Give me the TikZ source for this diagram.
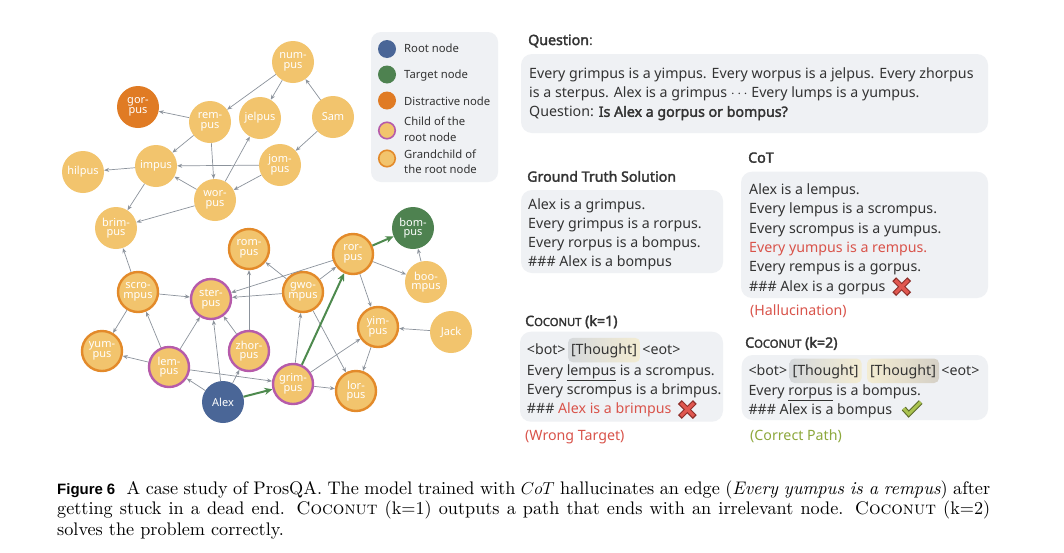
\documentclass[tikz,border=0pt]{standalone}
\usepackage{fontspec}
\usetikzlibrary{arrows.meta,shadings}
\newfontfamily\ns{Noto Sans}[AutoFakeBold=2.2]
\newfontfamily\figfont{Liberation Sans}
\newfontfamily\capfont{lmroman10-regular.otf}[ItalicFont=lmroman10-italic.otf, SmallCapsFont=lmromancaps10-regular.otf, BoldFont=lmroman10-bold.otf]
\definecolor{nlight}{HTML}{F2C46D}
\definecolor{nblue}{HTML}{4A6697}
\definecolor{ngreen}{HTML}{4E8250}
\definecolor{ndark}{HTML}{E07B24}
\definecolor{npurple}{HTML}{B65BAA}
\definecolor{norange}{HTML}{E38A2A}
\definecolor{egray}{HTML}{8C939C}
\definecolor{egreen}{HTML}{4E8A4E}
\definecolor{boxgray}{HTML}{EFF1F4}
\definecolor{txt}{HTML}{333333}
\definecolor{txtred}{HTML}{D9534A}
\definecolor{txtgreen}{HTML}{8DA83C}
\definecolor{xdark}{HTML}{8E2F2A}
\definecolor{xred}{HTML}{E0574F}
\definecolor{cdark}{HTML}{5C6B2A}
\definecolor{cgreen}{HTML}{AAC34F}
\definecolor{thgray}{HTML}{D6D9DC}
\definecolor{thbeige}{HTML}{F3ECD2}
\definecolor{thbrown}{HTML}{D5D0C6}
\tikzset{
  gnode/.style={circle, minimum size=42pt, inner sep=0pt, fill=nlight, text=white,
    font=\ns\fontsize{11}{9.5}\selectfont, align=center},
  childn/.style={gnode, draw=npurple, line width=2.4pt, minimum size=40pt},
  grandn/.style={gnode, draw=norange, line width=2.4pt, minimum size=40pt},
  rootn/.style={gnode, fill=nblue},
  targn/.style={gnode, fill=ngreen},
  distn/.style={gnode, fill=ndark},
  edge/.style={-{Stealth[length=5pt,width=4pt]}, draw=egray, line width=0.7pt},
  pathedge/.style={-{Stealth[length=8pt,width=7pt]}, draw=egreen, line width=2pt},
  tline/.style={anchor=base west, inner sep=0pt, font=\ns\fontsize{14.2}{16}\selectfont, text=txt},
  head/.style={anchor=base west, inner sep=0pt, font=\ns\bfseries\fontsize{14.2}{16}\selectfont, text=txt},
  thought/.style={tline, rounded corners=5pt, inner xsep=3pt, inner ysep=0pt, text height=16.5pt, text depth=8pt},
  legtext/.style={anchor=base west, inner sep=0pt, font=\ns\fontsize{11.3}{14}\selectfont, text=txt},
  legdot/.style={circle, minimum size=18pt, inner sep=0pt},
  tbox/.style={fill=boxgray, rounded corners=11pt},
  capline/.style={anchor=base west, inner sep=0pt, font=\capfont\fontsize{18.2}{20.5}\selectfont, text=black},
  xline/.style={line width=5.4pt, draw=xdark},
  xinner/.style={line width=3.2pt, draw=xred},
  cline/.style={line width=5.2pt, draw=cdark, line join=miter},
  cinner/.style={line width=3pt, draw=cgreen, line join=miter}
}
\newcommand{\cocosc}[1]{C{\fontsize{11.2}{12}\selectfont OCONUT} (k=#1)}
\begin{document}
\begin{tikzpicture}[x=1pt,y=-1pt]
\fill[white] (0,0) rectangle (1064,552);
\useasboundingbox (0,0) rectangle (1064,552);

% ---------------- graph ----------------
\node[gnode]  (numpus)   at (293,62)  {num-\\pus};
\node[distn]  (gorpus)   at (138,107) {gor-\\pus};
\node[gnode]  (rempus)   at (210,122) {rem-\\pus};
\node[gnode]  (jelpus)   at (260,118) {jelpus};
\node[gnode]  (sam)      at (333,117) {Sam};
\node[gnode]  (impus)    at (156,166) {impus};
\node[gnode]  (hilpus)   at (83,172)  {hilpus};
\node[gnode]  (jompus)   at (280,165) {jom-\\pus};
\node[gnode]  (worpus)   at (215,200) {wor-\\pus};
\node[gnode]  (brimpus)  at (116,228) {brim-\\pus};
\node[grandn] (rompus)   at (249,249) {rom-\\pus};
\node[grandn] (rorpus)   at (353,254) {ror-\\pus};
\node[targn]  (bompus)   at (413,228) {bom-\\pus};
\node[gnode]  (boompus)  at (426,282) {boo-\\mpus};
\node[grandn] (scrompus) at (138,292) {scro-\\mpus};
\node[childn] (sterpus)  at (211,299) {ster-\\pus};
\node[grandn] (gwompus)  at (303,292) {gwo-\\mpus};
\node[grandn] (yimpus)   at (378,327) {yim-\\pus};
\node[gnode]  (jack)     at (451,332) {Jack};
\node[grandn] (yumpus)   at (102,351) {yum-\\pus};
\node[childn] (lempus)   at (169,367) {lem-\\pus};
\node[childn] (zhorpus)  at (249,351) {zhor-\\pus};
\node[childn] (grimpus)  at (293,384) {grim-\\pus};
\node[grandn] (lorpus)   at (356,391) {lor-\\pus};
\node[rootn]  (alex)     at (223,402) {Alex};

\draw[edge] (numpus) -- (rempus);
\draw[edge] (numpus) -- (jelpus);
\draw[edge] (sam) -- (numpus);
\draw[edge] (sam) -- (jompus);
\draw[edge] (rempus) -- (gorpus);
\draw[edge] (rempus) -- (impus);
\draw[edge] (rempus) -- (worpus);
\draw[edge] (worpus) -- (jelpus);
\draw[edge] (jompus) -- (impus);
\draw[edge] (jompus) -- (worpus);
\draw[edge] (worpus) -- (impus);
\draw[edge] (impus) -- (hilpus);
\draw[edge] (impus) -- (brimpus);
\draw[edge] (worpus) -- (brimpus);
\draw[edge] (scrompus) -- (brimpus);
\draw[edge] (scrompus) -- (sterpus);
\draw[edge] (scrompus) -- (yumpus);
\draw[edge] (lempus) -- (scrompus);
\draw[edge] (lempus) -- (sterpus);
\draw[edge] (lempus) -- (yumpus);
\draw[edge] (lempus) -- (grimpus);
\draw[edge] (alex) -- (lempus);
\draw[edge] (alex) -- (sterpus);
\draw[edge] (alex) -- (zhorpus);
\draw[edge] (zhorpus) -- (rompus);
\draw[edge] (zhorpus) -- (sterpus);
\draw[edge] (gwompus) -- (rompus);
\draw[edge] (gwompus) -- (sterpus);
\draw[edge] (gwompus) -- (rorpus);
\draw[edge] (gwompus) -- (lorpus);
\draw[edge] (rorpus) -- (sterpus);
\draw[edge] (rorpus) -- (boompus);
\draw[edge] (rorpus) -- (yimpus);
\draw[edge] (boompus) -- (bompus);
\draw[edge] (grimpus) -- (gwompus);
\draw[edge] (grimpus) -- (yimpus);
\draw[edge] (grimpus) -- (lorpus);
\draw[edge] (jack) -- (yimpus);
\draw[edge] (yimpus) -- (lorpus);
\draw[pathedge] (alex) -- (grimpus);
\draw[pathedge] (grimpus) -- (rorpus);
\draw[pathedge] (rorpus) -- (bompus);

% ---------------- legend ----------------
\fill[boxgray, rounded corners=10pt] (371,32) rectangle (498,182);
\node[legdot, fill=nblue]  (lg1) at (387,49) {};
\node[legdot, fill=ngreen] (lg2) at (387,74.5) {};
\node[legdot, fill=ndark]  (lg3) at (387,100.5) {};
\node[legdot, fill=nlight, draw=npurple, line width=1.6pt, minimum size=16.5pt] (lg4) at (387,130.5) {};
\node[legdot, fill=nlight, draw=norange, line width=1.6pt, minimum size=16.5pt] (lg5) at (387,158.5) {};
\node[legtext] (lt1) at (404,52.7) {Root node};
\node[legtext] (lt2) at (404,78.3) {Target node};
\node[legtext] (lt3) at (404,105) {Distractive node};
\node[legtext] (lt4a) at (404,125) {Child of the};
\node[legtext] (lt4b) at (404,141.7) {root node};
\node[legtext] (lt5a) at (404,158.3) {Grandchild of};
\node[legtext] (lt5b) at (404,173.3) {the root node};

% ---------------- question ----------------
\node[head] (qh) at (528,45) {Question{\mdseries:}};
\fill[tbox] (521,54) rectangle (988,133);
\node[tline] (q1) at (529,78.3) {Every grimpus is a yimpus. Every worpus is a jelpus. Every zhorpus};
\node[tline] (q2) at (529,97.7) {is a sterpus. Alex is a grimpus $\cdots$ Every lumps is a yumpus.};
\node[tline] (q3) at (529,116.8) {Question: \textbf{Is Alex a gorpus or bompus?}};

% ---------------- ground truth ----------------
\node[head] (gth) at (527,181.7) {Ground Truth Solution};
\fill[tbox] (521,190) rectangle (723,273);
\node[tline] (g1) at (528,209) {Alex is a grimpus.};
\node[tline] (g2) at (528,228.3) {Every grimpus is a rorpus.};
\node[tline] (g3) at (528,247.7) {Every rorpus is a bompus.};
\node[tline] (g4) at (528,266.8) {\#\#\# Alex is a bompus};

% ---------------- CoT ----------------
\node[head] (coth) at (748,162.7) {CoT};
\fill[tbox] (741,171.7) rectangle (988,298);
\node[tline] (c1) at (749,194.3) {Alex is a lempus.};
\node[tline] (c2) at (749,213.7) {Every lempus is a scrompus.};
\node[tline] (c3) at (749,233.3) {Every scrompus is a yumpus.};
\node[tline, text=txtred] (c4) at (749,252.7) {Every yumpus is a rempus.};
\node[tline] (c5) at (749,271.7) {Every rempus is a gorpus.};
\node[tline] (c6) at (749,291.7) {\#\#\# Alex is a gorpus};
\coordinate (xa) at (901.7,286.7);
\draw[xline] ([shift={(-7.5,-7.5)}]xa) -- ([shift={(7.5,7.5)}]xa);
\draw[xline] ([shift={(-7.5,7.5)}]xa) -- ([shift={(7.5,-7.5)}]xa);
\draw[xinner] ([shift={(-6.5,-6.5)}]xa) -- ([shift={(6.5,6.5)}]xa);
\draw[xinner] ([shift={(-6.5,6.5)}]xa) -- ([shift={(6.5,-6.5)}]xa);
\node[tline, text=txtred] (hal) at (750,315) {(Hallucination)};

% ---------------- Coconut k=1 ----------------
\node[head] (k1h) at (525,326) {\cocosc{1}};
\fill[tbox] (520,331.7) rectangle (723,421.7);
\node[tline] (k1a) at (526.7,354.3) {<bot>};
\node[thought, left color=thgray, right color=thbeige, anchor=base west] (k1t) at ([xshift=2pt]k1a.base east) {[Thought]};
\node[tline] (k1e) at ([xshift=2pt]k1t.base east) {<eot>};
\node[tline] (k1b) at (526.7,375) {Every \underline{lempus} is a scrompus.};
\node[tline] (k1c) at (526.7,394.3) {Every scrompus is a brimpus.};
\node[tline] (k1d) at (526.7,413.3) {\#\#\# \textcolor{txtred}{Alex is a brimpus}};
\coordinate (xb) at (687.3,409.5);
\draw[xline] ([shift={(-7.5,-7.5)}]xb) -- ([shift={(7.5,7.5)}]xb);
\draw[xline] ([shift={(-7.5,7.5)}]xb) -- ([shift={(7.5,-7.5)}]xb);
\draw[xinner] ([shift={(-6.5,-6.5)}]xb) -- ([shift={(6.5,6.5)}]xb);
\draw[xinner] ([shift={(-6.5,6.5)}]xb) -- ([shift={(6.5,-6.5)}]xb);
\node[tline, text=txtred] (wt) at (525,440) {(Wrong Target)};

% ---------------- Coconut k=2 ----------------
\node[head] (k2h) at (745,347.7) {\cocosc{2}};
\fill[tbox] (741.7,355) rectangle (988,420);
\node[tline] (k2a) at (748.3,375) {<bot>};
\node[thought, left color=thgray, right color=thbeige, anchor=base west] (k2t1) at ([xshift=2pt]k2a.base east) {[Thought]};
\node[thought, left color=thbeige, right color=thbrown, anchor=base west] (k2t2) at ([xshift=5pt]k2t1.base east) {[Thought]};
\node[tline] (k2e) at ([xshift=2pt]k2t2.base east) {<eot>};
\node[tline] (k2b) at (748.3,395) {Every \underline{rorpus} is a bompus.};
\node[tline] (k2c) at (748.3,414.3) {\#\#\# Alex is a bompus};
\coordinate (ck) at (911.7,408.5);
\draw[cline] ([shift={(-8,0)}]ck) -- ([shift={(-3,5.5)}]ck) -- ([shift={(9,-6.5)}]ck);
\draw[cinner] ([shift={(-8,0)}]ck) -- ([shift={(-3,5.5)}]ck) -- ([shift={(9,-6.5)}]ck);
\node[tline, text=txtgreen] (cp) at (750,440) {(Correct Path)};

% ---------------- caption ----------------
\node[capline] (cap1) at (57,494) {\makebox[933pt][s]{{\figfont\bfseries\fontsize{15}{18}\selectfont Figure 6}\hspace{6pt} A case study of ProsQA. The model trained with $CoT$ hallucinates an edge (\textit{Every yumpus is a rempus}) after}};
\node[capline] (cap2) at (57,514.5) {\makebox[933pt][s]{getting stuck in a dead end. \textsc{Coconut} (k=1) outputs a path that ends with an irrelevant node. \textsc{Coconut} (k=2)}};
\node[capline] (cap3) at (57,535) {solves the problem correctly.};
\end{tikzpicture}
\end{document}
